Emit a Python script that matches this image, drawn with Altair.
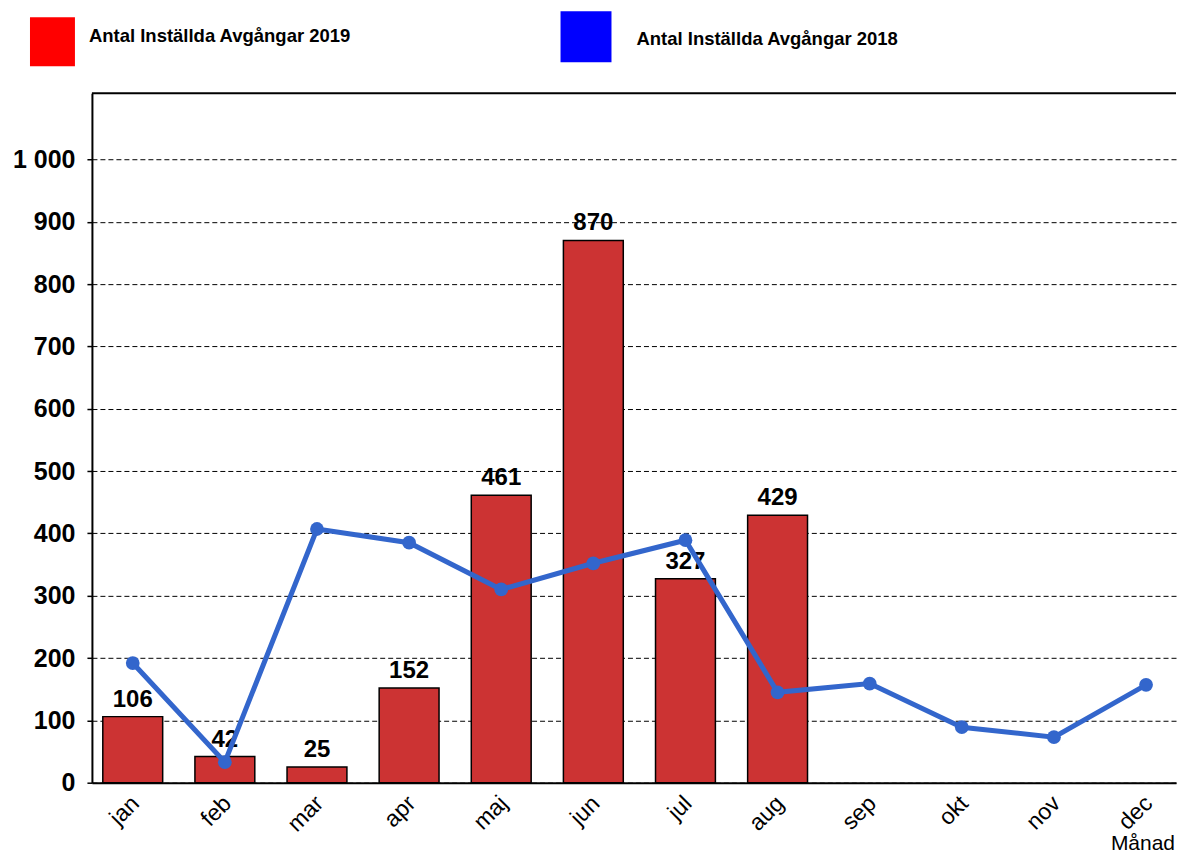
import altair as alt
import pandas as pd

months = ["jan", "feb", "mar", "apr", "maj", "jun", "jul", "aug", "sep", "okt", "nov", "dec"]
cancel_2019 = [106, 42, 25, 152, 461, 870, 327, 429, None, None, None, None]
cancel_2018 = [192, 33, 407, 385, 310, 352, 389, 145, 159, 89, 73, 157]
y_ticks = [0, 100, 200, 300, 400, 500, 600, 700, 800, 900, 1000]
legend_2019 = "Antal Inställda Avgångar 2019"
legend_2018 = "Antal Inställda Avgångar 2018"
x_title = "Månad"

W, H = 1085, 690
FONT = "Liberation Sans"

df = pd.DataFrame({"month": months, "y2019": cancel_2019, "y2018": cancel_2018})
bars_df = df.dropna(subset=["y2019"])
one = pd.DataFrame({"a": [0]})

xscale = alt.Scale(domain=months, paddingInner=0.35, paddingOuter=0.059, align=1)
yscale = alt.Scale(domain=[0, 1106], nice=False, zero=True)

x_enc = alt.X("month:N", sort=months, scale=xscale,
              axis=alt.Axis(title=None, labelAngle=-45, labelFontSize=23, labelFont=FONT,
                            labelColor="black", ticks=False, domainColor="black",
                            domainWidth=2, labelPadding=9, labelOffset=-5, grid=False))
y_enc = alt.Y("y2019:Q", scale=yscale,
              axis=alt.Axis(title=None, values=y_ticks,
                            labelExpr="replace(format(datum.value, ','), ',', ' ')",
                            labelFontSize=25, labelFontWeight="bold", labelFont=FONT,
                            labelColor="black", labelPadding=12, tickSize=5,
                            tickColor="black", tickWidth=1.5, domainColor="black",
                            domainWidth=2, grid=True, gridColor="black",
                            gridDash=[5, 3], gridWidth=1, gridOpacity=1))

bars = alt.Chart(bars_df).mark_bar(color="#CC3333", stroke="black", strokeWidth=1.5).encode(
    x=x_enc, y=y_enc)

labels = alt.Chart(bars_df).mark_text(fontSize=24, fontWeight="bold", font=FONT, color="black",
                                      baseline="alphabetic", dy=-10).encode(
    x=alt.X("month:N", sort=months, scale=xscale),
    y=alt.Y("y2019:Q", scale=yscale),
    text=alt.Text("y2019:Q", format="d"))

line = alt.Chart(df).mark_line(color="#3366CC", strokeWidth=5).encode(
    x=alt.X("month:N", sort=months, scale=xscale),
    y=alt.Y("y2018:Q", scale=yscale))

pts = alt.Chart(df).mark_point(color="#3366CC", filled=True, opacity=1, size=190).encode(
    x=alt.X("month:N", sort=months, scale=xscale),
    y=alt.Y("y2018:Q", scale=yscale))

top_border = alt.Chart(one).mark_rule(color="black", strokeWidth=2).encode(
    x=alt.value(0), x2=alt.value(W), y=alt.value(0))

leg_red = alt.Chart(one).mark_rect(color="#FF0000").encode(
    x=alt.value(-62), x2=alt.value(-17), y=alt.value(-76), y2=alt.value(-27))
leg_blue = alt.Chart(one).mark_rect(color="#0000FF").encode(
    x=alt.value(469), x2=alt.value(520), y=alt.value(-82), y2=alt.value(-31))
leg_t19 = alt.Chart(one).mark_text(text=legend_2019, fontSize=18.5, fontWeight="bold", font=FONT,
                                   color="black", align="left", baseline="middle").encode(
    x=alt.value(-3), y=alt.value(-57))
leg_t18 = alt.Chart(one).mark_text(text=legend_2018, fontSize=18.5, fontWeight="bold", font=FONT,
                                   color="black", align="left", baseline="middle").encode(
    x=alt.value(545), y=alt.value(-54))
xtitle = alt.Chart(one).mark_text(text=x_title, fontSize=21, font=FONT, color="black",
                                  align="right", baseline="alphabetic").encode(
    x=alt.value(1084), y=alt.value(757))

chart = alt.layer(bars, labels, line, pts, top_border, leg_red, leg_blue, leg_t19, leg_t18, xtitle).properties(
    width=W, height=H, background="white",
    padding={"left": 4, "top": 3, "right": 0, "bottom": 0},
).configure_view(stroke=None)

chart.save("out.html", embed_options={"renderer": "svg", "actions": False})
